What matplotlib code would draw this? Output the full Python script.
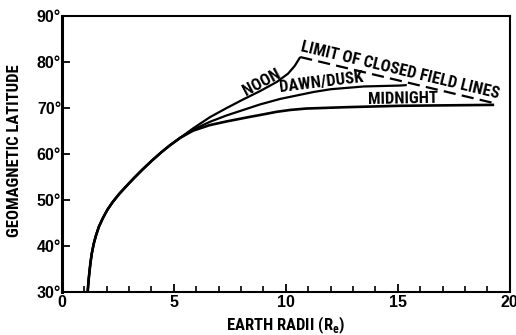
import matplotlib
matplotlib.use("Agg")
import matplotlib.pyplot as plt

# Common trunk of the field-line footprint curve (distance in Re, latitude in deg)
trunk_x = [1.15, 1.18, 1.22, 1.27, 1.33, 1.42, 1.52, 1.65, 1.82, 2.03, 2.27, 2.55,
           2.87, 3.22, 3.61, 4.00, 4.44, 4.82, 5.30]
trunk_lat = [30.0, 32.0, 34.0, 36.2, 38.3, 40.5, 42.3, 44.2, 46.0, 47.9, 49.6, 51.3,
             53.0, 54.8, 56.7, 58.5, 60.4, 61.9, 63.6]

noon_x = [5.86, 6.6, 7.35, 8.10, 8.85, 9.60, 10.10, 10.40, 10.64]
noon_lat = [65.6, 68.0, 70.0, 71.9, 73.7, 75.7, 77.5, 79.2, 81.1]

dawn_x = [5.86, 6.6, 7.35, 8.85, 9.75, 11.24, 12.0, 13.48, 15.1, 15.4]
dawn_lat = [65.3, 67.0, 68.4, 70.8, 72.0, 73.5, 74.1, 74.7, 74.9, 75.0]

midnight_x = [5.86, 6.6, 7.35, 8.4, 8.85, 9.6, 10.2, 10.9, 12.7, 15.1, 19.3]
midnight_lat = [65.1, 66.3, 67.1, 68.1, 68.5, 69.2, 69.6, 69.9, 70.2, 70.5, 70.7]

limit_x = [10.64, 19.45]
limit_lat = [81.1, 70.9]

yticks = [30, 40, 50, 60, 70, 80, 90]
xticks = [0, 5, 10, 15, 20]

label_font = ["Roboto Condensed", "DejaVu Sans"]
tick_font = ["Liberation Sans", "DejaVu Sans"]
plt.rcParams["font.family"] = label_font
plt.rcParams["font.weight"] = "bold"
plt.rcParams["mathtext.fontset"] = "custom"
plt.rcParams["mathtext.rm"] = "Roboto Condensed:bold"
plt.rcParams["mathtext.bf"] = "Roboto Condensed:bold"

fig = plt.figure(figsize=(5.16, 3.35), dpi=100)
ax = fig.add_axes([0.120, 0.128, 0.868, 0.824])

for bx, by, w in [(noon_x, noon_lat, 1.6), (dawn_x, dawn_lat, 1.6), (midnight_x, midnight_lat, 1.9)]:
    ax.plot(trunk_x + bx, trunk_lat + by, color="black", lw=w,
            solid_capstyle="butt", solid_joinstyle="round")
ax.plot(limit_x, limit_lat, color="black", lw=1.6, dashes=(5.5, 2.8))

ax.set_xlim(0, 20)
ax.set_ylim(30, 90)
ax.set_xticks(xticks)
ax.set_xticklabels([str(v) for v in xticks])
ax.set_xticks(range(0, 21), minor=True)
ax.set_yticks(yticks)
ax.set_yticklabels([f"{v}°" for v in yticks])

ax.tick_params(axis="both", which="major", direction="in", length=6, width=1.3,
               labelsize=11.5, colors="black")
ax.tick_params(axis="x", which="major", pad=2)
ax.tick_params(axis="y", which="major", pad=0.5)
ax.tick_params(axis="x", which="minor", direction="in", length=4, width=1.2)
ax.tick_params(axis="y", which="minor", length=0)
for lab in ax.get_xticklabels() + ax.get_yticklabels():
    lab.set_fontweight("bold")
    lab.set_family(tick_font)
for s in ax.spines.values():
    s.set_linewidth(1.5)
ax.spines["left"].set_linewidth(2.2)

ax.set_xlabel("EARTH RADII (R$_\\mathrm{e}$)", fontsize=12, fontweight="bold")
ax.set_ylabel("GEOMAGNETIC LATITUDE", fontsize=12, fontweight="bold")
ax.xaxis.set_label_coords(0.5, -0.12)
ax.yaxis.set_label_coords(-0.105, 0.514)
ax.xaxis.label.set_va("center")
ax.yaxis.label.set_va("center")

tk = dict(fontsize=12, fontweight="bold", ha="center", va="center")
ax.text(8.92, 75.65, "NOON", rotation=28, **tk)
ax.text(11.57, 75.6, "DAWN/DUSK", rotation=7, **tk)
ax.text(15.22, 72.1, "MIDNIGHT", rotation=1, **tk)
ax.text(15.08, 78.1, "LIMIT OF CLOSED FIELD LINES", rotation=-13.5, **tk)

fig.savefig("out.png", dpi=100)
